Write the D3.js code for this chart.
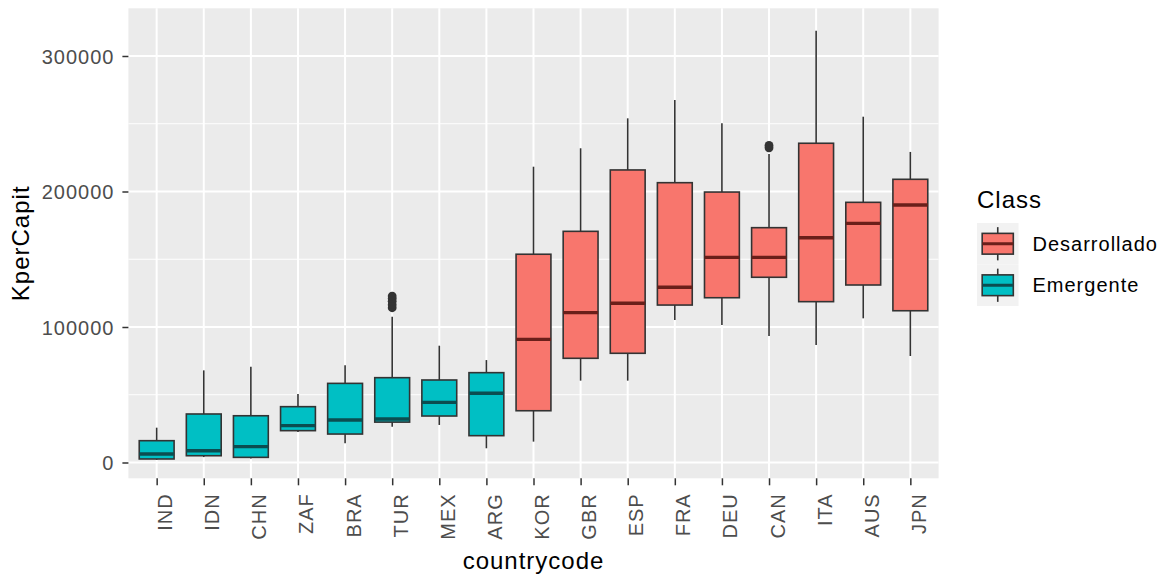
<!DOCTYPE html>
<html>
<head>
<meta charset="utf-8">
<script src="https://cdn.jsdelivr.net/npm/d3@7"></script>
<style>
  html, body { margin: 0; padding: 0; background: #fff; }
  svg { display: block; }
  text { font-family: "Liberation Sans", Arial, sans-serif; }
</style>
</head>
<body>
<svg id="chart" width="1167" height="575"></svg>
<script>
// ---- data ----
const categories = ["IND","IDN","CHN","ZAF","BRA","TUR","MEX","ARG","KOR","GBR","ESP","FRA","DEU","CAN","ITA","AUS","JPN"];
const classOf    = ["Emergente","Emergente","Emergente","Emergente","Emergente","Emergente","Emergente","Emergente",
                    "Desarrollado","Desarrollado","Desarrollado","Desarrollado","Desarrollado","Desarrollado","Desarrollado","Desarrollado","Desarrollado"];
const whiskerLow  = [2000, 4000, 3000, 22500, 14200, 26400, 27700, 10500, 15400, 60400, 60400, 105200, 101500, 93400, 86700, 106400, 78600];
const q1Values    = [2600, 5000, 3800, 23500, 21000, 29800, 34300, 19800, 38200, 76900, 80600, 116200, 121600, 136700, 118700, 131000, 112000];
const medianVals  = [6300, 8700, 11700, 27200, 31400, 32100, 44400, 51100, 90900, 110600, 117500, 129300, 151400, 151400, 165900, 176500, 190000];
const q3Values    = [16100, 35800, 34500, 41200, 58400, 62600, 60900, 66300, 153700, 170600, 215900, 206500, 199600, 173300, 235600, 192000, 209000];
const whiskerHigh = [25700, 68000, 70700, 50500, 71700, 107600, 86200, 75600, 218300, 231900, 254000, 267500, 250300, 227700, 318700, 255200, 229200];
const outliers    = [[], [], [], [], [], [114200, 116500, 119000, 121000, 122800], [], [], [], [], [], [], [], [232200, 234000], [], [], []];
const yTicks      = [0, 100000, 200000, 300000];
const yMinorTicks = [50000, 150000, 250000];
const classNames  = ["Desarrollado", "Emergente"];
const classColors = ["#F8766D", "#00BFC4"];
const medianColors = ["#6A1F1A", "#0B4D50"];

// ---- layout ----
const panel = { left: 128.4, right: 938.6, top: 8.3, bottom: 478.3 };
const svg = d3.select("#chart");

const x = d3.scalePoint().domain(categories).range([panel.left, panel.right]).padding(0.6);
const y = d3.scaleLinear().domain([-11660, 335200]).range([panel.bottom, panel.top]);
const fill = d3.scaleOrdinal().domain(classNames).range(classColors);
const medCol = d3.scaleOrdinal().domain(classNames).range(medianColors);
const boxW = x.step() * 0.74;

// panel background
svg.append("rect")
  .attr("x", panel.left).attr("y", panel.top)
  .attr("width", panel.right - panel.left).attr("height", panel.bottom - panel.top)
  .attr("fill", "#EBEBEB");

// grid
const grid = svg.append("g");
grid.selectAll("line.minor").data(yMinorTicks).enter().append("line")
  .attr("x1", panel.left).attr("x2", panel.right)
  .attr("y1", d => y(d)).attr("y2", d => y(d))
  .attr("stroke", "#fff").attr("stroke-width", 1);
grid.selectAll("line.majory").data(yTicks).enter().append("line")
  .attr("x1", panel.left).attr("x2", panel.right)
  .attr("y1", d => y(d)).attr("y2", d => y(d))
  .attr("stroke", "#fff").attr("stroke-width", 2);
grid.selectAll("line.majorx").data(categories).enter().append("line")
  .attr("x1", d => x(d)).attr("x2", d => x(d))
  .attr("y1", panel.top).attr("y2", panel.bottom)
  .attr("stroke", "#fff").attr("stroke-width", 2);

// boxes
const data = categories.map((c, i) => ({
  c, cls: classOf[i], lo: whiskerLow[i], q1: q1Values[i], med: medianVals[i],
  q3: q3Values[i], hi: whiskerHigh[i], out: outliers[i]
}));

const g = svg.append("g");
const bx = g.selectAll("g.box").data(data).enter().append("g");
bx.append("line")
  .attr("x1", d => x(d.c)).attr("x2", d => x(d.c))
  .attr("y1", d => y(d.hi)).attr("y2", d => y(d.q3))
  .attr("stroke", "#333").attr("stroke-width", 1.6);
bx.append("line")
  .attr("x1", d => x(d.c)).attr("x2", d => x(d.c))
  .attr("y1", d => y(d.q1)).attr("y2", d => y(d.lo))
  .attr("stroke", "#333").attr("stroke-width", 1.6);
bx.append("rect")
  .attr("x", d => x(d.c) - boxW / 2).attr("width", boxW)
  .attr("y", d => y(d.q3)).attr("height", d => y(d.q1) - y(d.q3))
  .attr("fill", d => fill(d.cls))
  .attr("stroke", "#333").attr("stroke-width", 1.6);
bx.append("line")
  .attr("x1", d => x(d.c) - boxW / 2).attr("x2", d => x(d.c) + boxW / 2)
  .attr("y1", d => y(d.med)).attr("y2", d => y(d.med))
  .attr("stroke", d => medCol(d.cls)).attr("stroke-width", 3.4);
bx.selectAll("circle").data(d => d.out.map(v => ({ c: d.c, v }))).enter().append("circle")
  .attr("cx", d => x(d.c)).attr("cy", d => y(d.v)).attr("r", 4.4)
  .attr("fill", "#333");

// y axis
const yAxis = svg.append("g").attr("transform", `translate(${panel.left},0)`)
  .call(d3.axisLeft(y).tickValues(yTicks).tickSize(6).tickPadding(8).tickFormat(d3.format("d")));
yAxis.select(".domain").remove();
yAxis.selectAll(".tick line").attr("stroke", "#333").attr("stroke-width", 1.5);
yAxis.selectAll(".tick text").attr("fill", "#4D4D4D").attr("font-size", 20)
  .attr("letter-spacing", 1).attr("dy", "0.36em")
  .attr("font-family", "'Liberation Sans', Arial, sans-serif");

// x axis
const xAxis = svg.append("g").attr("transform", `translate(0,${panel.bottom})`)
  .call(d3.axisBottom(x).tickSize(7).tickPadding(0));
xAxis.select(".domain").remove();
xAxis.selectAll(".tick line").attr("stroke", "#333").attr("stroke-width", 1.5);
xAxis.selectAll(".tick text")
  .attr("fill", "#4D4D4D").attr("font-size", 20).attr("letter-spacing", 1)
  .attr("font-family", "'Liberation Sans', Arial, sans-serif")
  .attr("text-anchor", "end").attr("dy", null).attr("y", null).attr("x", null)
  .attr("transform", "translate(15,15) rotate(-90)");

// axis titles
svg.append("text").attr("x", (panel.left + panel.right) / 2).attr("y", 569)
  .attr("text-anchor", "middle").attr("font-size", 24).attr("letter-spacing", 1)
  .attr("fill", "#000").text("countrycode");
svg.append("text").attr("transform", `translate(29,${(panel.top + panel.bottom) / 2}) rotate(-90)`)
  .attr("text-anchor", "middle").attr("font-size", 24).attr("letter-spacing", 1)
  .attr("fill", "#000").text("KperCapit");

// legend
const leg = svg.append("g");
leg.append("text").attr("x", 977).attr("y", 207.5).attr("font-size", 24).attr("letter-spacing", 1)
  .attr("fill", "#000").text("Class");
const keySize = 41.5, keyX = 977, keyY0 = 223;
const items = leg.selectAll("g.item").data(classNames).enter().append("g")
  .attr("transform", (d, i) => `translate(${keyX},${keyY0 + i * keySize})`);
items.append("rect").attr("width", keySize).attr("height", keySize).attr("fill", "#F2F2F2");
items.append("line").attr("x1", keySize / 2).attr("x2", keySize / 2)
  .attr("y1", keySize * 0.1).attr("y2", keySize * 0.9).attr("stroke", "#333").attr("stroke-width", 1.6);
items.append("rect").attr("x", keySize * 0.125).attr("width", keySize * 0.75)
  .attr("y", keySize * 0.25).attr("height", keySize * 0.5)
  .attr("fill", d => fill(d)).attr("stroke", "#333").attr("stroke-width", 1.6);
items.append("line").attr("x1", keySize * 0.125).attr("x2", keySize * 0.875)
  .attr("y1", keySize / 2).attr("y2", keySize / 2)
  .attr("stroke", d => medCol(d)).attr("stroke-width", 3);
items.append("text").attr("x", 55.5).attr("y", keySize / 2).attr("dy", "0.36em")
  .attr("font-size", 20).attr("letter-spacing", 1).attr("fill", "#000").text(d => d);
</script>
</body>
</html>
